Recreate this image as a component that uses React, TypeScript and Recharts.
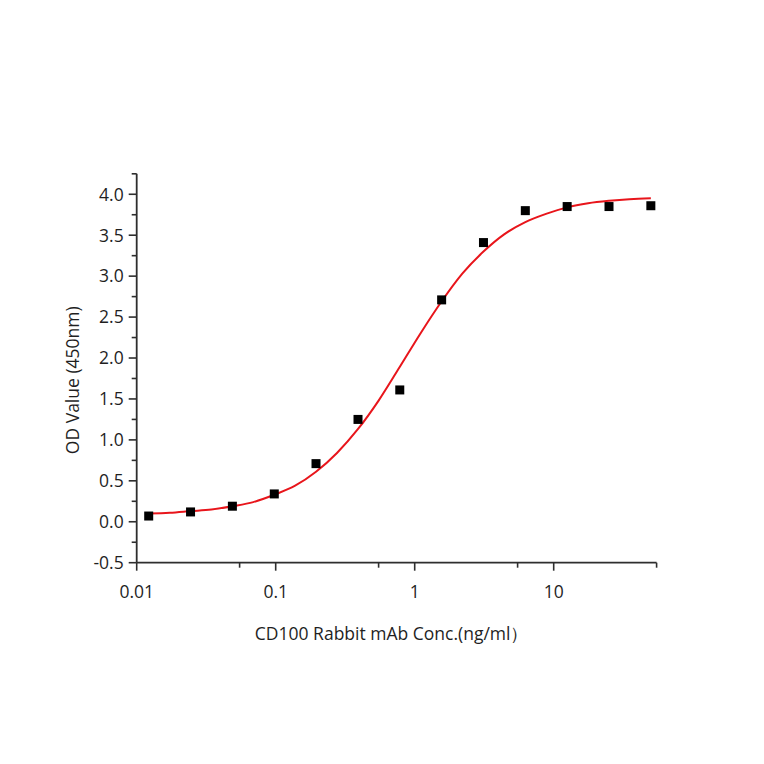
import React from 'react';
import { ComposedChart, Line, Scatter, XAxis, YAxis } from 'recharts';

const concentrations = [0.0122, 0.0244, 0.0488, 0.0977, 0.195, 0.391, 0.781, 1.5625, 3.125, 6.25, 12.5, 25, 50];
const odValues = [0.07, 0.12, 0.19, 0.34, 0.71, 1.25, 1.61, 2.71, 3.41, 3.80, 3.85, 3.85, 3.86];

const fitX = [0.0122, 0.0173, 0.0244, 0.0345, 0.0488, 0.069, 0.0977, 0.138, 0.195, 0.276, 0.39, 0.55, 0.78, 1.1, 1.56, 2.2, 3.125, 4.4, 6.25, 8.8, 12.5, 17.7, 25, 35, 50];
const fitY = [0.10, 0.11, 0.13, 0.15, 0.19, 0.24, 0.33, 0.44, 0.61, 0.84, 1.13, 1.48, 1.89, 2.30, 2.69, 3.03, 3.30, 3.51, 3.66, 3.76, 3.84, 3.89, 3.92, 3.94, 3.95];

const xMajor = [0.01, 0.1, 1, 10];
const xMinor = [0.055, 0.55, 5.5, 55];
const xLabels = ['0.01', '0.1', '1', '10'];
const yMajor = [-0.5, 0, 0.5, 1, 1.5, 2, 2.5, 3, 3.5, 4];
const yMinor = [-0.25, 0.25, 0.75, 1.25, 1.75, 2.25, 2.75, 3.25, 3.75, 4.25];

const xTitle = 'CD100 Rabbit mAb Conc.(ng/ml）';
const yTitle = 'OD Value (450nm)';

const pointData = concentrations.map((x, i) => ({ x, y: odValues[i] }));
const fitData = fitX.map((x, i) => ({ x, y: fitY[i] }));

const FONT = '"Open Sans", "Noto Sans", sans-serif';
const AXIS = '#2e2e2e';
const TEXT = '#1f1f1f';
const FS = 17.5;

const XTick = (props: any) => {
  const { x, y, payload } = props;
  const idx = xMajor.indexOf(payload.value);
  const major = idx >= 0;
  return (
    <g>
      <line x1={x} y1={y} x2={x} y2={y + (major ? 8 : 5)} stroke={AXIS} strokeWidth={1.6} />
      {major && (
        <text x={x} y={y + 35} textAnchor="middle" fontFamily={FONT} fontSize={FS} fill={TEXT}>
          {xLabels[idx]}
        </text>
      )}
    </g>
  );
};

const YTick = (props: any) => {
  const { x, y, payload } = props;
  const major = yMajor.indexOf(payload.value) >= 0;
  return (
    <g>
      <line x1={x} y1={y} x2={x - (major ? 8 : 5)} y2={y} stroke={AXIS} strokeWidth={1.6} />
      {major && (
        <text x={x - 13} y={y} dy="0.36em" textAnchor="end" fontFamily={FONT} fontSize={FS} fill={TEXT}>
          {payload.value.toFixed(1)}
        </text>
      )}
    </g>
  );
};

const Square = (props: any) => {
  const { cx, cy } = props;
  return <rect x={cx - 4.5} y={cy - 4.5} width={9} height={9} fill="#000000" />;
};

export default function App() {
  return (
    <div style={{ width: 748, height: 748, background: '#ffffff' }}>
      <ComposedChart
        width={748}
        height={748}
        margin={{ top: 165.8, right: 99.4, bottom: 133.3, left: 68.7 }}
      >
        <XAxis
          dataKey="x"
          type="number"
          scale="log"
          domain={[0.01, 55]}
          ticks={[...xMajor, ...xMinor]}
          allowDataOverflow
          height={60}
          tickSize={0}
          tickMargin={0}
          tickLine={false}
          axisLine={{ stroke: AXIS, strokeWidth: 1.8 }}
          tick={XTick}
          interval={0}
          label={(p: any) => {
            const vb = p.viewBox;
            return (
              <text x={vb.x + vb.width / 2 - 5} y={vb.y + 77} textAnchor="middle" fontFamily={FONT} fontSize={FS} fill={TEXT}>
                {xTitle}
              </text>
            );
          }}
        />
        <YAxis
          dataKey="y"
          type="number"
          domain={[-0.5, 4.25]}
          ticks={[...yMajor, ...yMinor]}
          allowDataOverflow
          width={60}
          tickSize={0}
          tickMargin={0}
          tickLine={false}
          axisLine={{ stroke: AXIS, strokeWidth: 1.8 }}
          tick={YTick}
          interval={0}
          label={(p: any) => {
            const vb = p.viewBox;
            const cx = vb.x + vb.width - 64;
            const cy = vb.y + vb.height / 2 + 12;
            return (
              <text x={cx} y={cy} dy="0.36em" textAnchor="middle" transform={`rotate(-90 ${cx} ${cy})`} fontFamily={FONT} fontSize={FS} fill={TEXT}>
                {yTitle}
              </text>
            );
          }}
        />
        <Line
          data={fitData}
          dataKey="y"
          type="monotone"
          stroke="#e8151b"
          strokeWidth={2}
          dot={false}
          activeDot={false}
          isAnimationActive={false}
        />
        <Scatter data={pointData} dataKey="y" shape={Square} isAnimationActive={false} />
      </ComposedChart>
    </div>
  );
}
